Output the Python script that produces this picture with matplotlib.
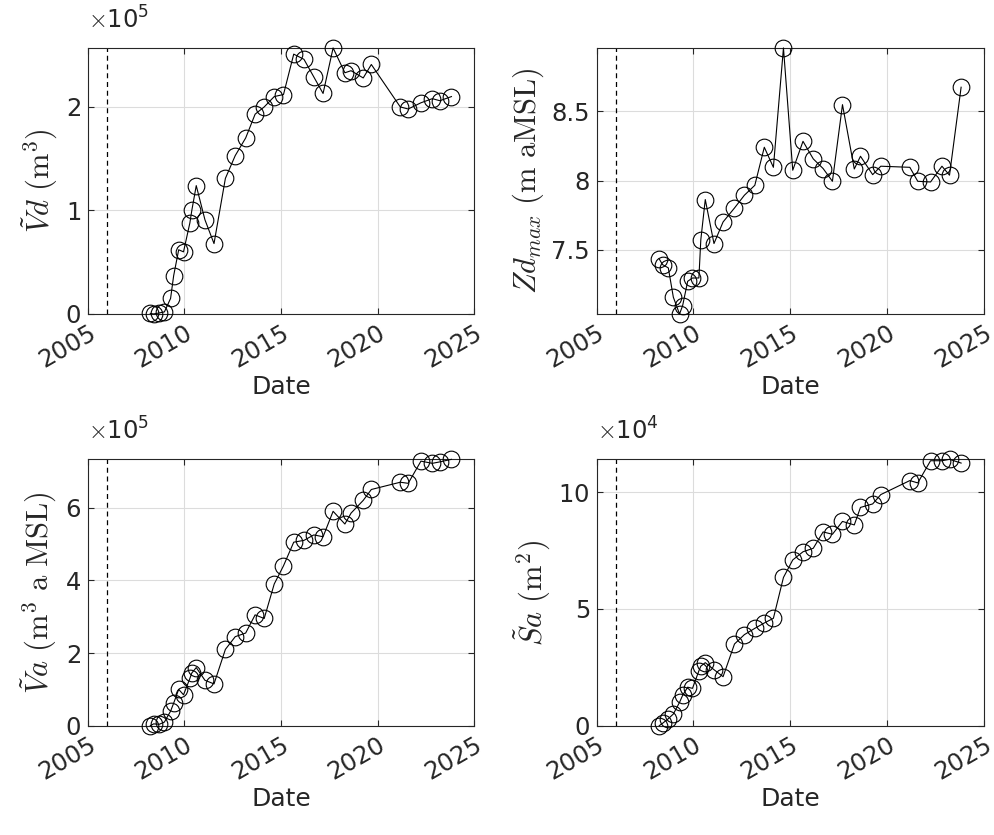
import matplotlib
matplotlib.use("Agg")
import matplotlib.pyplot as plt
import numpy as np

plt.rcParams['font.family'] = ['DejaVu Sans']
plt.rcParams['mathtext.fontset'] = 'cm'

# Survey dates (decimal years)
dates = [2008.23, 2008.40, 2008.70, 2008.96, 2009.28, 2009.44, 2009.70, 2009.95,
         2010.28, 2010.38, 2010.61, 2011.06, 2011.53, 2012.12, 2012.63, 2013.17,
         2013.66, 2014.13, 2014.65, 2015.13, 2015.66, 2016.19, 2016.70, 2017.18,
         2017.70, 2018.31, 2018.63, 2019.26, 2019.68, 2021.18, 2021.59, 2022.25,
         2022.84, 2023.23, 2023.83]

# Deposited volume (m^3)
vd = [0.005e5, 0.0, 0.01e5, 0.02e5, 0.15e5, 0.37e5, 0.62e5, 0.60e5,
      0.88e5, 1.00e5, 1.24e5, 0.91e5, 0.68e5, 1.31e5, 1.53e5, 1.70e5,
      1.93e5, 2.00e5, 2.10e5, 2.12e5, 2.51e5, 2.46e5, 2.29e5, 2.13e5,
      2.57e5, 2.33e5, 2.35e5, 2.28e5, 2.41e5, 2.00e5, 1.98e5, 2.04e5,
      2.08e5, 2.06e5, 2.10e5]

# Maximum deposit elevation (m aMSL)
zd_max = [7.434, 7.393, 7.369, 7.157, 7.036, 7.096, 7.272, 7.296,
          7.296, 7.573, 7.863, 7.545, 7.701, 7.802, 7.894, 7.966,
          8.241, 8.096, 8.959, 8.075, 8.284, 8.157, 8.087, 7.995,
          8.549, 8.084, 8.176, 8.043, 8.104, 8.096, 7.995, 7.990,
          8.104, 8.039, 8.675]

# Volume above MSL (m^3)
va = [0.0, 0.05e5, 0.04e5, 0.10e5, 0.40e5, 0.62e5, 1.00e5, 0.85e5,
      1.30e5, 1.45e5, 1.60e5, 1.25e5, 1.15e5, 2.10e5, 2.45e5, 2.55e5,
      3.05e5, 2.95e5, 3.90e5, 4.40e5, 5.05e5, 5.10e5, 5.25e5, 5.20e5,
      5.90e5, 5.55e5, 5.85e5, 6.20e5, 6.50e5, 6.70e5, 6.67e5, 7.28e5,
      7.22e5, 7.26e5, 7.33e5]

# Surface area (m^2)
sa = [0.0, 0.10e4, 0.30e4, 0.50e4, 1.00e4, 1.30e4, 1.65e4, 1.60e4,
      2.35e4, 2.55e4, 2.70e4, 2.40e4, 2.10e4, 3.50e4, 3.90e4, 4.17e4,
      4.40e4, 4.60e4, 6.35e4, 7.10e4, 7.45e4, 7.60e4, 8.30e4, 8.20e4,
      8.75e4, 8.60e4, 9.35e4, 9.50e4, 9.90e4, 10.50e4, 10.40e4, 11.35e4,
      11.35e4, 11.41e4, 11.25e4]

event_year = 2006.0
year_ticks = [2005, 2010, 2015, 2020, 2025]

panels = [
    (vd, r'$\tilde{V}d\ (\mathrm{m}^3)$', [0, 1e5, 2e5], 5),
    (zd_max, r'$Zd_{max}\ (\mathrm{m\ aMSL})$', [7.5, 8, 8.5], None),
    (va, r'$\tilde{V}a\ (\mathrm{m}^3\ \mathrm{a\ MSL})$', [0, 2e5, 4e5, 6e5], 5),
    (sa, r'$\tilde{S}a\ (\mathrm{m}^2)$', [0, 5e4, 1e5], 4),
]

positions = [
    [0.0884, 0.624, 0.388, 0.3186],
    [0.5997, 0.624, 0.389, 0.3186],
    [0.0884, 0.1309, 0.388, 0.319],
    [0.5997, 0.1309, 0.389, 0.319],
]

fig = plt.figure(figsize=(9.95, 8.35), dpi=100)
dark = '#262626'
tick_fs = 17.5

for (vals, ylab, yt, oom), pos in zip(panels, positions):
    ax = fig.add_axes(pos)
    ax.plot(dates, vals, '-o', color='black', lw=0.8, ms=12,
            mfc='none', mec='black', mew=0.8, clip_on=False, zorder=3)
    ax.axvline(event_year, color='black', ls=(0, (4, 3)), lw=0.9)
    ax.set_xlim(2005, 2025)
    ax.set_ylim(min(vals), max(vals))
    ax.set_xticks(year_ticks)
    ax.set_xticklabels([str(y) for y in year_ticks], rotation=30,
                       ha='right', rotation_mode='anchor')
    ax.set_yticks(yt)
    if oom is not None:
        ax.ticklabel_format(axis='y', style='sci', scilimits=(oom, oom),
                            useMathText=True)
        ax.yaxis.OFFSETTEXTPAD = 14
        ax.yaxis.get_offset_text().set_fontsize(tick_fs)
        ax.yaxis.get_offset_text().set_color(dark)
    else:
        ax.set_yticklabels(['7.5', '8', '8.5'])
    ax.grid(True, color='#dcdcdc', lw=0.8)
    ax.set_axisbelow(True)
    ax.tick_params(direction='in', length=4, width=0.8, colors=dark,
                   labelsize=tick_fs, top=True, right=True, pad=5)
    for s in ax.spines.values():
        s.set_color(dark)
        s.set_linewidth(0.8)
    ax.set_xlabel('Date', fontsize=18, color=dark, labelpad=2)
    ax.set_ylabel(ylab, fontsize=22, color=dark, labelpad=4)

fig.savefig('out.png', dpi=100)
